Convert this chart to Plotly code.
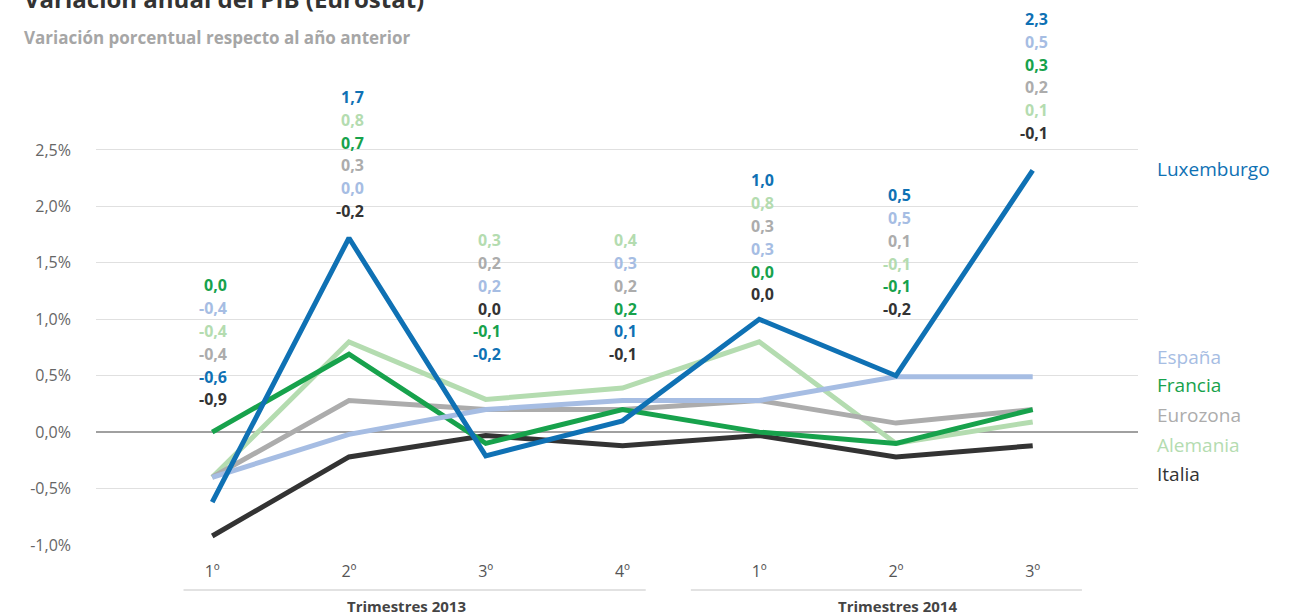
import plotly.graph_objects as go

# Quarters (2013 Q1..Q4, 2014 Q1..Q3)
quarters = ["13-1", "13-2", "13-3", "13-4", "14-1", "14-2", "14-3"]
tick_text = ["1º", "2º", "3º", "4º", "1º", "2º", "3º"]

# line values
luxemburgo = [-0.62, 1.72, -0.21, 0.10, 1.00, 0.50, 2.32]
espana = [-0.40, -0.02, 0.20, 0.28, 0.28, 0.49, 0.49]
francia = [0.00, 0.69, -0.10, 0.20, 0.00, -0.10, 0.20]
eurozona = [-0.40, 0.28, 0.20, 0.20, 0.28, 0.08, 0.20]
alemania = [-0.40, 0.80, 0.29, 0.39, 0.80, -0.10, 0.09]
italia = [-0.92, -0.22, -0.03, -0.12, -0.03, -0.22, -0.12]

# printed (rounded) values in the label stacks
lbl_luxemburgo = ["-0,6", "1,7", "-0,2", "0,1", "1,0", "0,5", "2,3"]
lbl_espana = ["-0,4", "0,0", "0,2", "0,3", "0,3", "0,5", "0,5"]
lbl_francia = ["0,0", "0,7", "-0,1", "0,2", "0,0", "-0,1", "0,3"]
lbl_eurozona = ["-0,4", "0,3", "0,2", "0,2", "0,3", "0,1", "0,2"]
lbl_alemania = ["-0,4", "0,8", "0,3", "0,4", "0,8", "-0,1", "0,1"]
lbl_italia = ["-0,9", "-0,2", "0,0", "-0,1", "0,0", "-0,2", "-0,1"]

# stacking order of the labels, top to bottom
stack_order = [
    ["Francia", "España", "Alemania", "Eurozona", "Luxemburgo", "Italia"],
    ["Luxemburgo", "Alemania", "Francia", "Eurozona", "España", "Italia"],
    ["Alemania", "Eurozona", "España", "Italia", "Francia", "Luxemburgo"],
    ["Alemania", "España", "Eurozona", "Francia", "Luxemburgo", "Italia"],
    ["Luxemburgo", "Alemania", "Eurozona", "España", "Francia", "Italia"],
    ["Luxemburgo", "España", "Eurozona", "Alemania", "Francia", "Italia"],
    ["Luxemburgo", "España", "Francia", "Eurozona", "Alemania", "Italia"],
]

series = {
    "Luxemburgo": (luxemburgo, lbl_luxemburgo, "#0f71b4"),
    "España": (espana, lbl_espana, "#a6bde3"),
    "Francia": (francia, lbl_francia, "#17a24c"),
    "Eurozona": (eurozona, lbl_eurozona, "#acacac"),
    "Alemania": (alemania, lbl_alemania, "#b4dcb0"),
    "Italia": (italia, lbl_italia, "#333333"),
}
draw_order = ["Italia", "Alemania", "Eurozona", "Francia", "España", "Luxemburgo"]

# layout helpers (positions)
stack_base = [0.29, 1.96, 0.69, 0.69, 1.22, 1.09, 2.65]
end_label_y = {"Luxemburgo": 2.33, "España": 0.67, "Francia": 0.42,
               "Eurozona": 0.15, "Alemania": -0.11, "Italia": -0.37}

FONT = "'Open Sans', Lato, sans-serif"

fig = go.Figure()
for name in draw_order:
    vals, _, color = series[name]
    fig.add_trace(go.Scatter(
        x=quarters, y=vals, mode="lines", name=name,
        line=dict(color=color, width=5), showlegend=False,
    ))

ann = []
for qi, q in enumerate(quarters):
    for row, name in enumerate(reversed(stack_order[qi])):
        _, lbls, color = series[name]
        ann.append(dict(
            x=q, y=stack_base[qi], xref="x", yref="y",
            text="<b>%s</b>" % lbls[qi], showarrow=False,
            xanchor="right", yanchor="middle", xshift=17, yshift=22.8 * row,
            font=dict(family=FONT, size=16, color=color),
        ))

for name, yv in end_label_y.items():
    ann.append(dict(
        x=1.016, y=yv, xref="paper", yref="y", text=name, showarrow=False,
        xanchor="left", yanchor="middle",
        font=dict(family=FONT, size=19, color=series[name][2]),
    ))

ann.append(dict(x=-0.071, y=1.022, xref="paper", yref="paper",
                text="<b>Variación anual del PIB (Eurostat)</b>", showarrow=False,
                xanchor="left", yanchor="middle",
                font=dict(family=FONT, size=24, color="#333333")))
ann.append(dict(x=-0.071, y=0.948, xref="paper", yref="paper",
                text="<b>Variación porcentual respecto al año anterior</b>", showarrow=False,
                xanchor="left", yanchor="middle",
                font=dict(family=FONT, size=17, color="#a6a6a6")))
ann.append(dict(x=1.42, y=-0.114, xref="x", yref="paper", text="<b>Trimestres 2013</b>",
                showarrow=False, yanchor="middle",
                font=dict(family=FONT, size=15, color="#444444")))
ann.append(dict(x=5.01, y=-0.114, xref="x", yref="paper", text="<b>Trimestres 2014</b>",
                showarrow=False, yanchor="middle",
                font=dict(family=FONT, size=15, color="#444444")))

shapes = [
    dict(type="line", xref="x", yref="paper", x0=-0.21, x1=3.17, y0=-0.084, y1=-0.084,
         line=dict(color="#d9d9d9", width=1.5)),
    dict(type="line", xref="x", yref="paper", x0=3.5, x1=6.36, y0=-0.084, y1=-0.084,
         line=dict(color="#d9d9d9", width=1.5)),
]

yticks = [-1.0, -0.5, 0.0, 0.5, 1.0, 1.5, 2.0, 2.5]
fig.update_layout(
    width=1310, height=616,
    margin=dict(l=96, r=172, t=10, b=71),
    paper_bgcolor="white", plot_bgcolor="white",
    font=dict(family=FONT),
    annotations=ann, shapes=shapes,
    xaxis=dict(
        type="category", range=[-0.85, 6.77], tickvals=quarters, ticktext=tick_text,
        showgrid=False, zeroline=False, showline=False, ticks="",
        ticklabelstandoff=15,
        tickfont=dict(family=FONT, size=16, color="#555555"),
    ),
    yaxis=dict(
        range=[-1.0, 3.74], tickvals=yticks,
        ticktext=[("%.1f%%" % v).replace(".", ",") for v in yticks],
        showgrid=True, gridcolor="#e0e0e0", gridwidth=1,
        zeroline=True, zerolinecolor="#a0a0a0", zerolinewidth=2,
        showline=False, ticks="", ticklabelstandoff=24,
        tickfont=dict(family=FONT, size=16, color="#666666"),
    ),
)

fig.write_html("out.html", config={"displayModeBar": False},
               post_script="document.body.style.margin='0px';"
                           "document.body.style.overflow='hidden';")
